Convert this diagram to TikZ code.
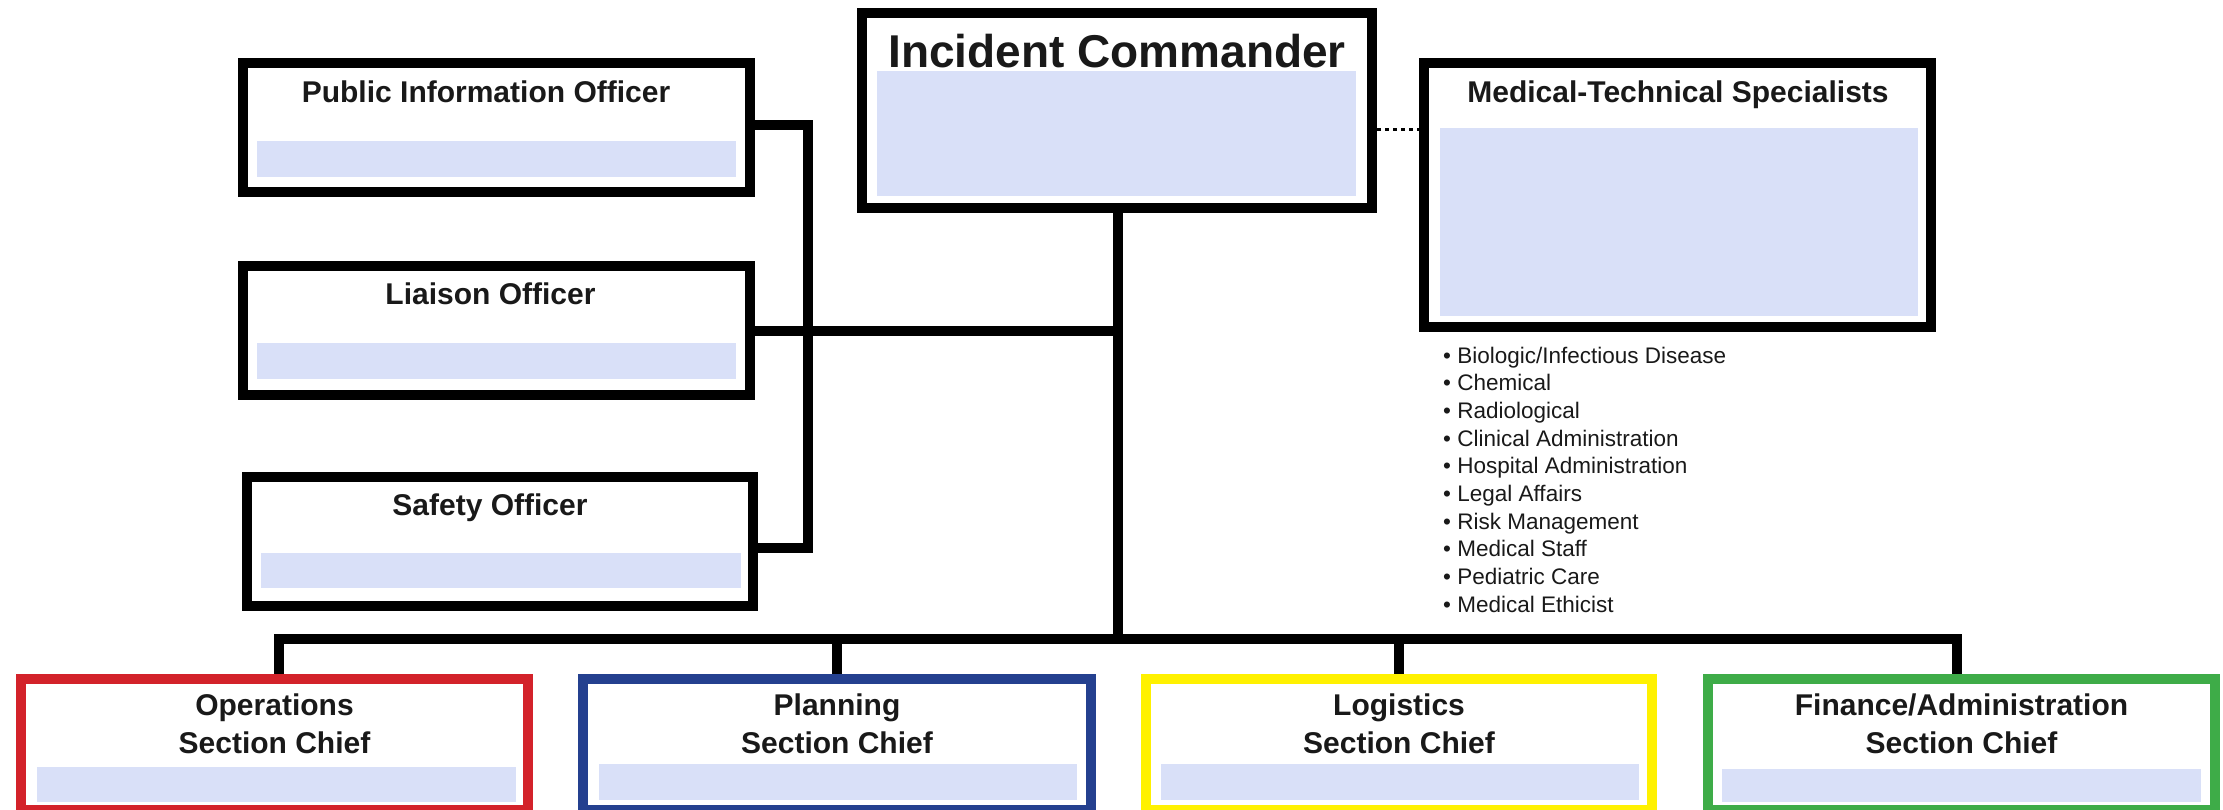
\documentclass[tikz,border=0pt]{standalone}
\usepackage{fontspec}
\setmainfont{Liberation Sans}
\usetikzlibrary{backgrounds}

\definecolor{slot}{RGB}{217,224,248}
\definecolor{opsred}{RGB}{211,34,42}
\definecolor{planblue}{RGB}{36,64,143}
\definecolor{logyellow}{RGB}{255,241,0}
\definecolor{fingreen}{RGB}{62,172,72}
\definecolor{ink}{RGB}{25,25,25}

\begin{document}
\begin{tikzpicture}[x=1pt,y=-1pt,
  box/.style={draw=black, line width=10pt, fill=white, inner sep=0pt,
              minimum width=507pt, minimum height=129pt},
  chief/.style={box, minimum height=131pt},
  slotfill/.style={fill=slot},
  conn/.style={draw=black, line width=10pt, line join=miter},
  dotconn/.style={draw=black, line width=3pt, dash pattern=on 4pt off 4pt},
  title/.style={font=\fontsize{30}{38}\selectfont\bfseries, text=ink, inner sep=0pt, anchor=base},
  bigtitle/.style={font=\fontsize{46}{54}\selectfont\bfseries, text=ink, inner sep=0pt, anchor=base},
  item/.style={font=\fontsize{22.5}{27}\selectfont, text=ink, inner sep=0pt, anchor=base west}
]
\useasboundingbox (0,0) rectangle (2223,809);

% command staff boxes
\node[box, minimum width=510pt, minimum height=195pt] (ic) at (1117,110.5) {};
\node[box, minimum height=264pt] (mts) at (1677.5,195) {};
\node[box] (pio) at (496.5,127.5) {};
\node[box] (lia) at (496.5,330.5) {};
\node[box, minimum width=506pt] (saf) at (500,541.5) {};

% section chief boxes
\node[chief, draw=opsred]    (ops)  at (274.5,744.5) {};
\node[chief, draw=planblue, minimum width=508pt] (plan) at (837,744.5) {};
\node[chief, draw=logyellow, minimum width=506pt] (log)  at (1399,744.5) {};
\node[chief, draw=fingreen]  (fin)  at (1961.5,744.5) {};

% name slots
\fill[slotfill] (877,71) rectangle (1356,196);
\fill[slotfill] (1440,128) rectangle (1918,316);
\fill[slotfill] (257,141) rectangle (736,177);
\fill[slotfill] (257,343) rectangle (736,379);
\fill[slotfill] (261,553) rectangle (741,588);
\fill[slotfill] (37,767) rectangle (516,802);
\fill[slotfill] (599,764) rectangle (1077,800);
\fill[slotfill] (1161,764) rectangle (1639,800);
\fill[slotfill] (1722,769) rectangle (2201,802);

% titles
\node[bigtitle] (ic-t) at (1117,67) {Incident Commander};
\node[title] (mts-t) at (1678,102) {Medical-Technical Specialists};
\node[title] (pio-t) at (486,102) {Public Information Officer};
\node[title] (lia-t) at (490.5,304) {Liaison Officer};
\node[title] (saf-t) at (490,515) {Safety Officer};
\node[title] (ops-t1) at (274.5,715) {Operations};
\node[title] (ops-t2) at (274.5,753) {Section Chief};
\node[title] (plan-t1) at (837,715) {Planning};
\node[title] (plan-t2) at (837,753) {Section Chief};
\node[title] (log-t1) at (1399,715) {Logistics};
\node[title] (log-t2) at (1399,753) {Section Chief};
\node[title] (fin-t1) at (1961.5,715) {Finance/Administration};
\node[title] (fin-t2) at (1961.5,753) {Section Chief};

% specialist list
\foreach \t [count=\i] in {Biologic/Infectious Disease, Chemical, Radiological,
    Clinical Administration, Hospital Administration, Legal Affairs,
    Risk Management, Medical Staff, Pediatric Care, Medical Ethicist}
  \node[item] (spec\i) at (1443,{363+27.7*(\i-1)}) {• \t};

% reporting lines
\coordinate (busTop) at (808,125);
\coordinate (busBot) at (808,548);
\coordinate (trunkBot) at (1118,639);
\coordinate (dropOps) at (279,639);
\coordinate (dropFin) at (1956.5,639);

\begin{scope}[on background layer]
  \draw[conn] (pio.east |- busTop) -- (busTop) -- (busBot) -- (saf.east |- busBot);
  \draw[conn] (lia.east) -- (lia.east -| trunkBot);
  \draw[conn] (ic.south -| trunkBot) -- (trunkBot);
  \draw[conn] (ops.north -| dropOps) -- (dropOps) -- (dropFin) -- (fin.north -| dropFin);
  \draw[conn] (plan.north) -- (plan.north |- trunkBot);
  \draw[conn] (log.north) -- (log.north |- trunkBot);
  \draw[dotconn] (ic.east |- 0,129) -- (mts.west |- 0,129);
\end{scope}
\end{tikzpicture}
\end{document}
